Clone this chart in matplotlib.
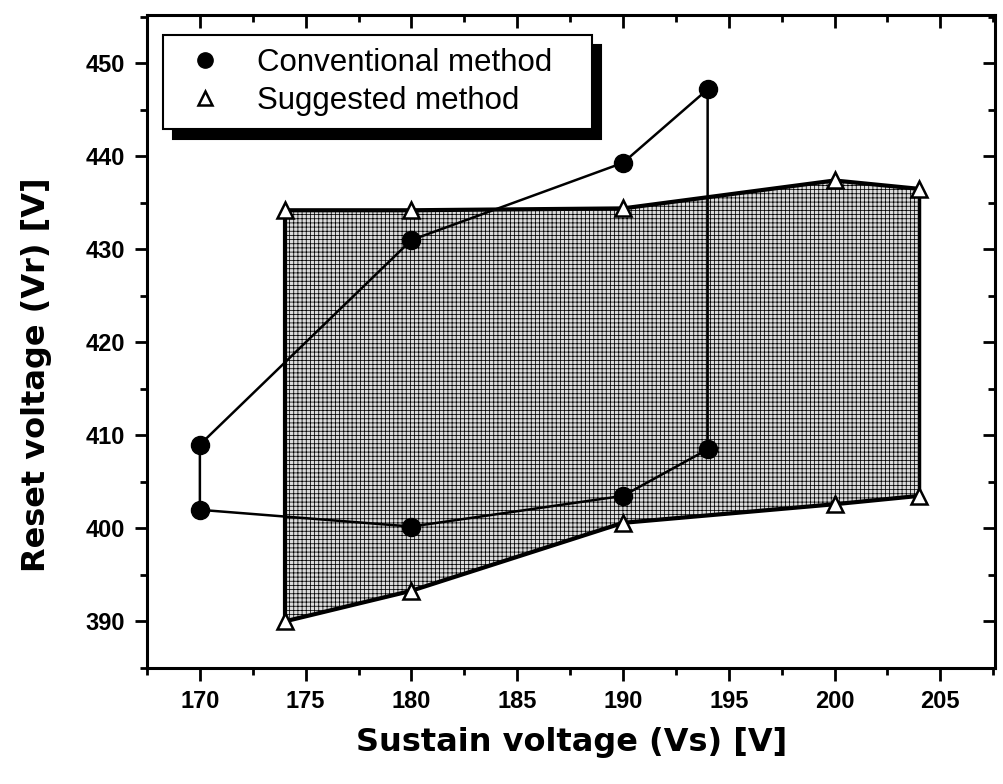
import numpy as np
import matplotlib.pyplot as plt
from matplotlib.lines import Line2D
from matplotlib.ticker import MultipleLocator

plt.rcParams['font.family'] = ['Liberation Sans', 'DejaVu Sans']
plt.rcParams['hatch.linewidth'] = 0.55

# Conventional method: upper and lower boundary of the operating window
vs_conv = np.array([170, 180, 190, 194])
vr_conv_upper = np.array([409.0, 431.0, 439.3, 447.2])
vr_conv_lower = np.array([402.0, 400.2, 403.5, 408.5])

# Suggested method
vs_sugg = np.array([174, 180, 190, 200, 204])
vr_sugg_upper = np.array([434.2, 434.2, 434.4, 437.4, 436.5])
vr_sugg_lower = np.array([390.0, 393.3, 400.6, 402.6, 403.5])

fig = plt.figure(figsize=(10.04, 7.84), dpi=100)
ax = fig.add_axes([0.1464, 0.148, 0.845, 0.833])

# shaded window of the suggested method
ax.fill_between(vs_sugg, vr_sugg_lower, vr_sugg_upper, facecolor='#dcdcdc',
                edgecolor='black', hatch='++++', linewidth=0, zorder=1)
ax.plot(vs_sugg, vr_sugg_upper, color='black', lw=3, zorder=2)
ax.plot(vs_sugg, vr_sugg_lower, color='black', lw=3, zorder=2)
ax.plot([vs_sugg[0]] * 2, [vr_sugg_lower[0], vr_sugg_upper[0]], color='black', lw=3, zorder=2)
ax.plot([vs_sugg[-1]] * 2, [vr_sugg_lower[-1], vr_sugg_upper[-1]], color='black', lw=2.5, zorder=2)
ax.plot(vs_sugg, vr_sugg_upper, linestyle='none', marker='^', ms=12, mfc='white',
        mec='black', mew=1.8, zorder=4)
ax.plot(vs_sugg, vr_sugg_lower, linestyle='none', marker='^', ms=12, mfc='white',
        mec='black', mew=1.8, zorder=4)

# closed loop for the conventional method
loop_x = np.concatenate([vs_conv, vs_conv[::-1], vs_conv[:1]])
loop_y = np.concatenate([vr_conv_upper, vr_conv_lower[::-1], vr_conv_upper[:1]])
ax.plot(loop_x, loop_y, color='black', lw=1.8, zorder=3)
ax.plot(vs_conv, vr_conv_upper, linestyle='none', marker='o', ms=13, color='black', zorder=5)
ax.plot(vs_conv, vr_conv_lower, linestyle='none', marker='o', ms=13, color='black', zorder=5)

ax.set_xlim(167.5, 207.6)
ax.set_ylim(385, 455.2)
ax.xaxis.set_major_locator(MultipleLocator(5))
ax.xaxis.set_minor_locator(MultipleLocator(2.5))
ax.yaxis.set_major_locator(MultipleLocator(10))
ax.yaxis.set_minor_locator(MultipleLocator(5))

for s in ax.spines.values():
    s.set_linewidth(2.2)
ax.tick_params(which='both', direction='out', width=2, top=False, right=False)
ax.tick_params(which='major', length=9, pad=7, labelsize=17)
ax.tick_params(which='minor', length=5)
for lbl in ax.get_xticklabels() + ax.get_yticklabels():
    lbl.set_fontweight('bold')

# mirrored inward ticks on top and right
ax2 = ax.secondary_xaxis('top')
ax2.xaxis.set_major_locator(MultipleLocator(5))
ax2.xaxis.set_minor_locator(MultipleLocator(2.5))
ax2.tick_params(which='both', direction='in', width=2, labeltop=False)
ax2.tick_params(which='major', length=9)
ax2.tick_params(which='minor', length=5)
ay2 = ax.secondary_yaxis('right')
ay2.yaxis.set_major_locator(MultipleLocator(10))
ay2.yaxis.set_minor_locator(MultipleLocator(5))
ay2.tick_params(which='both', direction='in', width=2, labelright=False)
ay2.tick_params(which='major', length=9)
ay2.tick_params(which='minor', length=5)

label_font = dict(fontsize=23, fontweight='bold', family='DejaVu Sans')
ax.set_xlabel('Sustain voltage (Vs) [V]', labelpad=10, **label_font)
ax.set_ylabel('Reset voltage (Vr) [V]', **label_font)
ax.yaxis.set_label_coords(-0.112, 0.449)

handles = [
    Line2D([], [], linestyle='none', marker='o', ms=11, color='black'),
    Line2D([], [], linestyle='none', marker='^', ms=10, mfc='white', mec='black', mew=1.8),
]
leg = ax.legend(handles, ['Conventional method   ', 'Suggested method'],
                loc='upper left', bbox_to_anchor=(0.019, 0.969), borderaxespad=0,
                fontsize=22.5, frameon=True, fancybox=False, edgecolor='black',
                shadow={'color': 'black', 'alpha': 1, 'ox': 7, 'oy': -7},
                handletextpad=0.75, labelspacing=0.25, borderpad=0.42, handlelength=1.85)
leg.get_frame().set_linewidth(1.5)

fig.savefig('out.png', dpi=100)
